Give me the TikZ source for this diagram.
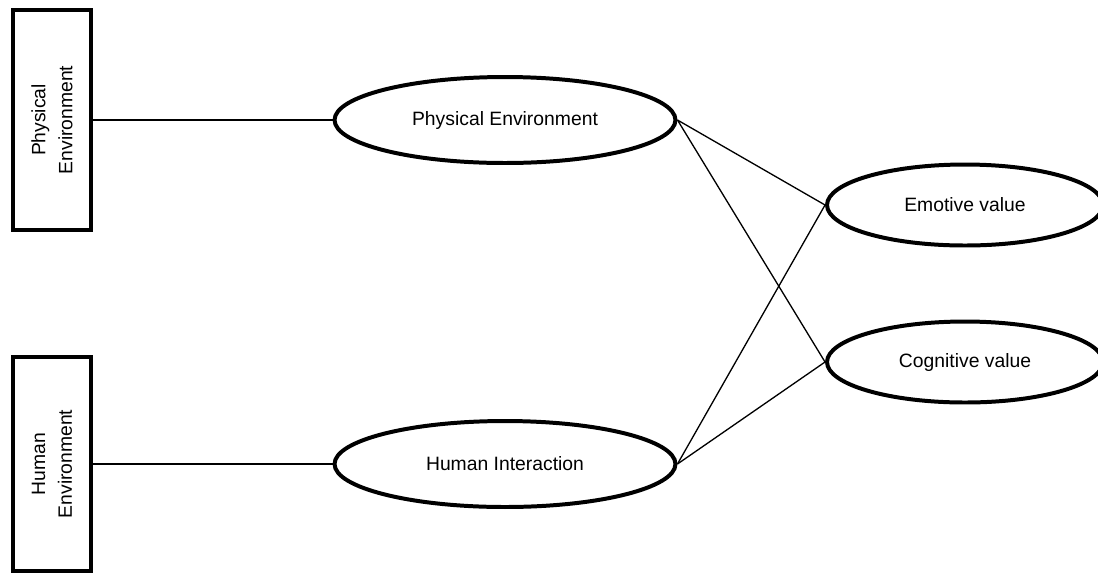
\documentclass[tikz,border=0pt]{standalone}
\usepackage{fontspec}
\setmainfont{Liberation Sans}
\usetikzlibrary{shapes.geometric}

\begin{document}
\begin{tikzpicture}[x=0.02cm, y=-0.02cm,
  envbox/.style={draw, line width=2.27pt, rotate=90, inner sep=0pt,
    minimum height=1.58cm, align=center,
    font=\fontsize{11}{15.3}\selectfont},
  construct/.style={draw, ellipse, line width=2.27pt, inner sep=0pt,
    font=\fontsize{11}{13}\selectfont},
  link/.style={line width=0.75pt}]
\clip (0,0) rectangle (1098,576);

% environment boxes
\node[envbox, minimum width=4.4cm] (physbox) at (52,120) {Physical\\Environment};
\node[envbox, minimum width=4.28cm] (humbox) at (52,464) {Human\\Environment};

% constructs
\node[construct, minimum width=6.82cm, minimum height=1.72cm] (physell) at (505,120) {Physical Environment};
\node[construct, minimum width=6.82cm, minimum height=1.72cm] (humell) at (505,464) {Human Interaction};

\node[construct, minimum width=5.52cm, minimum height=1.62cm] (emo) at (965,205) {Emotive value};
\node[construct, minimum width=5.52cm, minimum height=1.62cm] (cog) at (965,362) {Cognitive value};

% links
\draw[link] (physbox) -- (physell);
\draw[link] (humbox) -- (humell);
\draw[link] (physell.east) -- (emo.west);
\draw[link] (physell.east) -- (cog.west);
\draw[link] (humell.east) -- (emo.west);
\draw[link] (humell.east) -- (cog.west);
\end{tikzpicture}
\end{document}
